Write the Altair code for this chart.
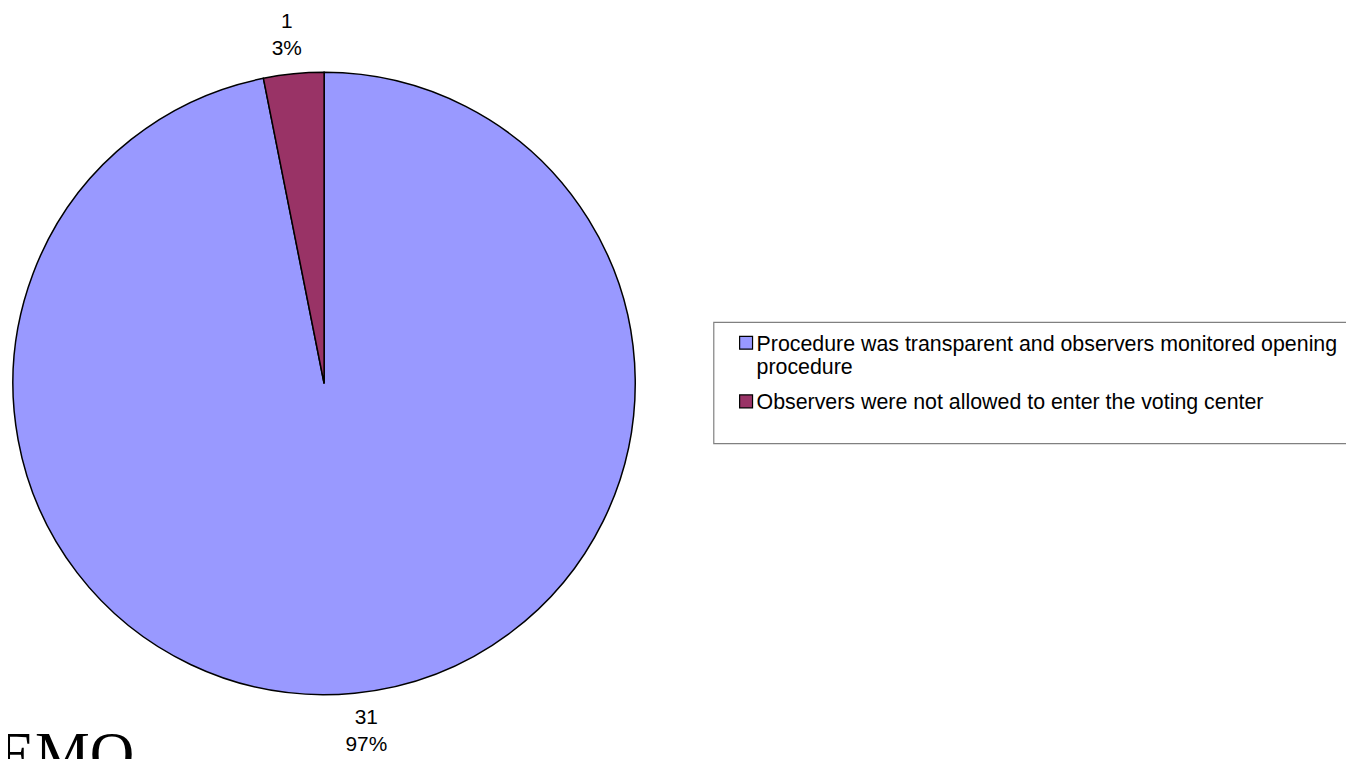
import altair as alt
import pandas as pd

categories = [
    "Procedure was transparent and observers monitored opening procedure",
    "Observers were not allowed to enter the voting center",
]
legend_labels = [
    "Procedure was transparent and observers monitored opening\nprocedure",
    "Observers were not allowed to enter the voting center",
]
counts = [31, 1]
percents = ["97%", "3%"]
colors = ["#9999FF", "#993366"]
watermark = ["DEMO"]

df = pd.DataFrame({
    "category": categories,
    "legend": legend_labels,
    "count": counts,
    "pct": percents,
    "idx": list(range(len(categories))),
})
df["label"] = df["count"].astype(str) + "\n" + df["pct"]

FONT = "Liberation Sans"
CX, CY, R = 318, 375.5, 313
LH = 27

color = alt.Color("category:N", scale=alt.Scale(domain=categories, range=colors), legend=None)

base = alt.Chart(df)

pie = base.mark_arc(outerRadius=R, stroke="black", strokeWidth=1.5).encode(
    theta=alt.Theta("count:Q", stack=True),
    order=alt.Order("idx:Q"),
    color=color,
    x=alt.value(CX),
    y=alt.value(CY),
)

layers = [pie]
label_dx = [8, -3]
for i in range(len(categories)):
    lab = base.mark_text(
        radius=352, fontSize=21, font=FONT, lineBreak="\n", lineHeight=LH,
        align="center", baseline="middle", color="black", dy=-LH / 2, dx=label_dx[i],
    ).encode(
        theta=alt.Theta("count:Q", stack=True),
        order=alt.Order("idx:Q"),
        text=alt.condition(alt.datum.idx == i, "label:N", alt.value("")),
        x=alt.value(CX),
        y=alt.value(CY),
    )
    layers.append(lab)

legend_box = base.mark_rect(fill="white", stroke="#808080", strokeWidth=1.2).encode(
    x=alt.value(710), x2=alt.value(1370), y=alt.value(314), y2=alt.value(436)
).transform_filter(alt.datum.idx == 0)
layers.append(legend_box)

sw_y = [328, 387]
txt_y = [343, 401]
for i in range(len(categories)):
    sw = base.mark_rect(stroke="black", strokeWidth=1.2).encode(
        color=color,
        x=alt.value(736), x2=alt.value(749),
        y=alt.value(sw_y[i]), y2=alt.value(sw_y[i] + 13),
    ).transform_filter(alt.datum.idx == i)
    tx = base.mark_text(
        fontSize=21.5, font=FONT, lineBreak="\n", lineHeight=23,
        align="left", baseline="alphabetic", color="black",
    ).encode(
        text="legend:N", x=alt.value(753), y=alt.value(txt_y[i]),
    ).transform_filter(alt.datum.idx == i)
    layers += [sw, tx]

wm = alt.Chart(pd.DataFrame({"t": watermark})).mark_text(
    font="Liberation Serif", fontSize=62, align="right", baseline="alphabetic", color="black"
).encode(text="t:N", x=alt.value(127), y=alt.value(768))
layers.append(wm)

chart = alt.layer(*layers).properties(
    width=1346, height=751, padding=0,
    autosize=alt.AutoSizeParams(type="none"),
    background="white",
).configure_view(stroke=None)

chart.save("out.html", embed_options={"renderer": "svg", "actions": False})
